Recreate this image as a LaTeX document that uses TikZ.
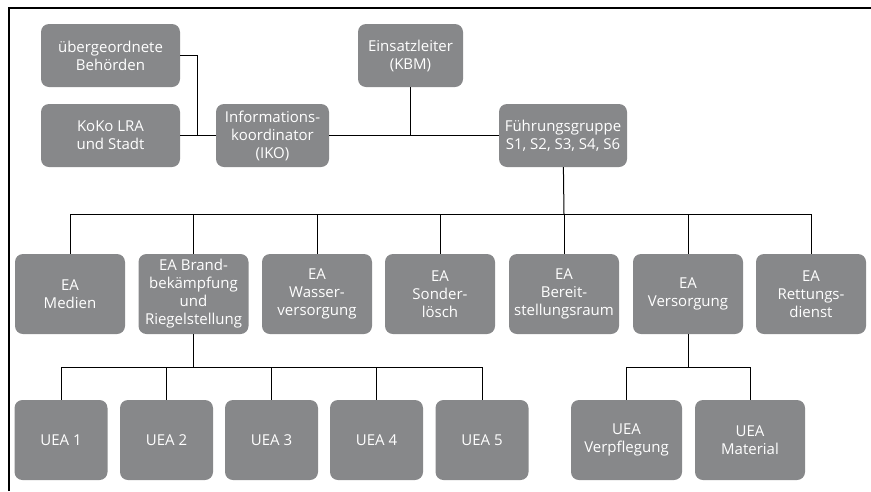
\documentclass[tikz,border=0pt]{standalone}
\usepackage{fontspec}
\setmainfont{Open Sans}
\usetikzlibrary{positioning}
\definecolor{boxgray}{RGB}{135,136,138}

\begin{document}
\begin{tikzpicture}[
  x=1pt, y=-1pt,
  font=\fontsize{15}{18}\selectfont,
  box/.style={fill=boxgray, text=white, rounded corners=8pt, align=center,
    inner sep=0pt, minimum height=63pt},
  ea/.style={box, minimum width=110pt, minimum height=80pt},
  uea/.style={box, minimum width=93pt, minimum height=80pt},
  link/.style={draw=black, line width=1pt}
]
\useasboundingbox (0,0) rectangle (871,491);
% frame
\draw[line width=1.5pt] (9,491) -- (9,8) -- (871,8);

% top level
\node[box, minimum width=139pt] (ub)   at (110.5,55.5)  {übergeordnete\\Behörden};
\node[box, minimum width=139pt] (koko) at (110.5,135.5) {KoKo LRA\\und Stadt};
\node[box, minimum width=113pt] (iko)  at (272.5,135.5) {Informations-\\koordinator\\(IKO)};
\node[box, minimum width=105pt] (el)   at (410.5,55.5)  {Einsatzleiter\\(KBM)};
\node[box, minimum width=128pt] (fg)   at (563,135.5)   {Führungsgruppe\\S1, S2, S3, S4, S6};

% Einsatzabschnitte
\node[ea] (ea1) at (70,294)    {EA\\Medien};
\node[ea] (ea2) at (193.5,294) {EA Brand-\\bekämpfung\\und\\Riegelstellung};
\node[ea] (ea3) at (317,294)   {EA\\Wasser-\\versorgung};
\node[ea] (ea4) at (440,294)   {EA\\Sonder-\\lösch};
\node[ea] (ea5) at (564,294)   {EA\\Bereit-\\stellungsraum};
\node[ea] (ea6) at (688,294)   {EA\\Versorgung};
\node[ea] (ea7) at (811,294)   {EA\\Rettungs-\\dienst};

% Unterabschnitte
\node[uea] (uea1) at (61,440)    {UEA 1};
\node[uea] (uea2) at (166.5,440) {UEA 2};
\node[uea] (uea3) at (271.5,440) {UEA 3};
\node[uea] (uea4) at (376.5,440) {UEA 4};
\node[uea] (uea5) at (482,440)   {UEA 5};
\node[uea, minimum width=111pt] (uea6) at (626.5,440) {UEA\\Verpflegung};
\node[uea, minimum width=110pt] (uea7) at (750,440)   {UEA\\Material};

% connectors
\coordinate (j1) at (197,135.5);
\draw[link] (ub.east) -| (j1);
\draw[link] (koko) -- (iko);
\draw[link] (iko) -- (fg);
\draw[link] (el.south) -- (el.south |- iko.east);

\coordinate (busA) at (564,214);
\draw[link] (fg) -- (busA);
\foreach \i in {1,...,7}
  \draw[link] (busA) -| (ea\i.north);

\coordinate (busB) at (193.5,367);
\draw[link] (ea2) -- (busB);
\foreach \i in {1,...,5}
  \draw[link] (busB) -| (uea\i.north);

\coordinate (busC) at (688,367);
\draw[link] (ea6) -- (busC);
\foreach \i in {6,7}
  \draw[link] (busC) -| (uea\i.north);
\end{tikzpicture}
\end{document}
